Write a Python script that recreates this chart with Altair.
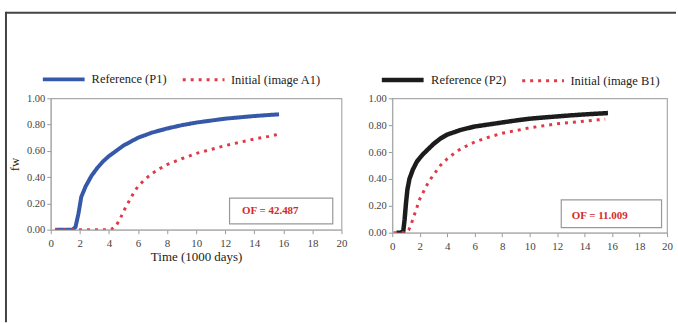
import altair as alt
import pandas as pd

# ---- data ----
t_ref1 = [0.3, 0.8, 1.2, 1.5, 1.7, 1.9, 2.1, 2.4, 2.8, 3.2, 3.6, 4, 4.5, 5, 5.5, 6, 7, 8, 9, 10, 11, 12, 13, 14, 15, 15.7]
fw_ref1 = [0, 0, 0, 0, 0.02, 0.12, 0.25, 0.33, 0.41, 0.47, 0.52, 0.56, 0.60, 0.64, 0.67, 0.70, 0.74, 0.77, 0.795, 0.815, 0.83, 0.845, 0.855, 0.865, 0.873, 0.878]
t_ini1 = [0.3, 1, 2, 3, 4, 4.2, 4.5, 4.8, 5.1, 5.4, 5.7, 6, 6.5, 7, 7.5, 8, 9, 10, 11, 12, 13, 14, 15, 15.6]
fw_ini1 = [0, 0, 0, 0, 0, 0.005, 0.03, 0.09, 0.16, 0.22, 0.28, 0.33, 0.385, 0.43, 0.465, 0.495, 0.54, 0.58, 0.61, 0.64, 0.665, 0.69, 0.71, 0.725]

t_ref2 = [0.3, 0.6, 0.8, 0.9, 1.0, 1.1, 1.25, 1.5, 1.8, 2.2, 2.6, 3, 3.5, 4, 5, 6, 7, 8, 9, 10, 11, 12, 13, 14, 15, 15.7]
fw_ref2 = [0, 0, 0.01, 0.1, 0.22, 0.32, 0.4, 0.47, 0.53, 0.58, 0.62, 0.66, 0.7, 0.73, 0.765, 0.79, 0.805, 0.82, 0.835, 0.848, 0.857, 0.865, 0.873, 0.88, 0.886, 0.89]
t_ini2 = [0.1, 0.5, 1.0, 1.2, 1.4, 1.6, 1.8, 2, 2.3, 2.6, 3, 3.5, 4, 4.5, 5, 6, 7, 8, 9, 10, 11, 12, 13, 14, 15, 15.5]
fw_ini2 = [0, 0, 0, 0.02, 0.07, 0.13, 0.19, 0.25, 0.31, 0.37, 0.43, 0.5, 0.55, 0.59, 0.625, 0.675, 0.71, 0.74, 0.76, 0.78, 0.795, 0.81, 0.82, 0.83, 0.84, 0.845]

series1 = ["Reference (P1)", "Initial (image A1)"]
series2 = ["Reference (P2)", "Initial (image B1)"]
of_labels = ["OF = 42.487", "OF = 11.009"]
# annotation boxes in data units: x0, x1, y0, y1, text x, text y
box1 = [12.3, 19.4, 0.045, 0.24, 15.1, 0.14]
box2 = [12.3, 19.6, 0.037, 0.244, 15.1, 0.125]

x_ticks = list(range(0, 21, 2))
y_ticks = [0, 0.2, 0.4, 0.6, 0.8, 1.0]

FONT = "Liberation Serif"
BLUE = "#3558a8"
RED = "#e03a48"
BLACK = "#1c1c1c"


def make_df(t_a, f_a, t_b, f_b, names):
    return pd.concat([
        pd.DataFrame({"t": t_a, "fw": f_a, "series": names[0], "order": range(len(t_a))}),
        pd.DataFrame({"t": t_b, "fw": f_b, "series": names[1], "order": range(len(t_b))}),
    ])


def panel(df, names, ref_color, ref_width, box, of_text, w, h, legend_x, y_title, x_title):
    x_axis = alt.Axis(values=x_ticks, grid=False, labelFont=FONT, labelFontSize=11,
                      labelColor="#444", tickColor="#999", domainColor="#aaa", tickSize=4,
                      labelPadding=4, labelOverlap=False, labelFlush=False,
                      title=x_title, titleFont=FONT, titleFontSize=13,
                      titleFontWeight="normal", titleColor="#222", titlePadding=2)
    y_axis = alt.Axis(values=y_ticks, format=".2f", grid=False, labelFont=FONT, labelFontSize=10.5,
                      labelColor="#444", tickColor="#999", domainColor="#aaa", tickSize=4,
                      labelPadding=2, labelOverlap=False, labelFlush=False,
                      title=y_title, titleFont=FONT, titleFontSize=13,
                      titleFontWeight="normal", titleColor="#222", titlePadding=5)
    xs = alt.Scale(domain=[0, 20], nice=False)
    ys = alt.Scale(domain=[0, 1], nice=False)
    legend = alt.Legend(orient="none", legendX=legend_x, legendY=-42, direction="horizontal",
                        title=None, symbolType="stroke", symbolSize=1760,
                        labelFont=FONT, labelFontSize=12.5, labelColor="#222",
                        labelOffset=5, columnPadding=9)
    lines = alt.Chart(df).mark_line(clip=True, strokeCap="butt").encode(
        x=alt.X("t:Q", scale=xs, axis=x_axis),
        y=alt.Y("fw:Q", scale=ys, axis=y_axis),
        color=alt.Color("series:N", scale=alt.Scale(domain=names, range=[ref_color, RED]), legend=legend),
        strokeDash=alt.StrokeDash("series:N", scale=alt.Scale(domain=names, range=[[1, 0], [3, 5]]), legend=legend),
        strokeWidth=alt.StrokeWidth("series:N", scale=alt.Scale(domain=names, range=[ref_width, 3]), legend=legend),
        order="order:Q",
    )
    bdf = pd.DataFrame({"x0": [box[0]], "x1": [box[1]], "y0": [box[2]], "y1": [box[3]],
                        "tx": [box[4]], "ty": [box[5]], "label": [of_text]})
    rect = alt.Chart(bdf).mark_rect(fill="white", stroke="#999", strokeWidth=1.2).encode(
        x=alt.X("x0:Q", scale=xs, axis=x_axis), x2="x1",
        y=alt.Y("y0:Q", scale=ys, axis=y_axis), y2="y1")
    txt = alt.Chart(bdf).mark_text(font=FONT, fontSize=11, fontWeight="bold", color="#d42a2a").encode(
        x=alt.X("tx:Q", scale=xs, axis=x_axis), y=alt.Y("ty:Q", scale=ys, axis=y_axis), text="label:N")
    return alt.layer(lines, rect, txt).properties(width=w, height=h)


df1 = make_df(t_ref1, fw_ref1, t_ini1, fw_ini1, series1)
df2 = make_df(t_ref2, fw_ref2, t_ini2, fw_ini2, series2)

left = panel(df1, series1, BLUE, 4, box1, of_labels[0], 292, 132, -10, "fw", "Time (1000 days)")

frame_df = pd.DataFrame({"k": [0]})
frame_top = alt.Chart(frame_df).mark_rule(color="#444", strokeWidth=2, clip=False).encode(
    x=alt.value(-45), x2=alt.value(628), y=alt.value(-86))
frame_left = alt.Chart(frame_df).mark_rule(color="#444", strokeWidth=2, clip=False).encode(
    x=alt.value(-45), y=alt.value(-87), y2=alt.value(225))
left = alt.layer(left, frame_top, frame_left)

right = panel(df2, series2, BLACK, 4.5, box2, of_labels[1], 276, 135, -13, None, None)

chart = alt.hconcat(left, right, spacing=51, bounds="flush").resolve_scale(
    color="independent", strokeDash="independent", strokeWidth="independent"
).resolve_legend(
    color="independent", strokeDash="independent", strokeWidth="independent"
).properties(
    padding={"left": 4, "top": 9, "right": 0, "bottom": 0},
    background="white",
).configure_view(stroke="#aaa", strokeWidth=1.2)

chart.save("out.html", embed_options={"renderer": "svg", "actions": False})
